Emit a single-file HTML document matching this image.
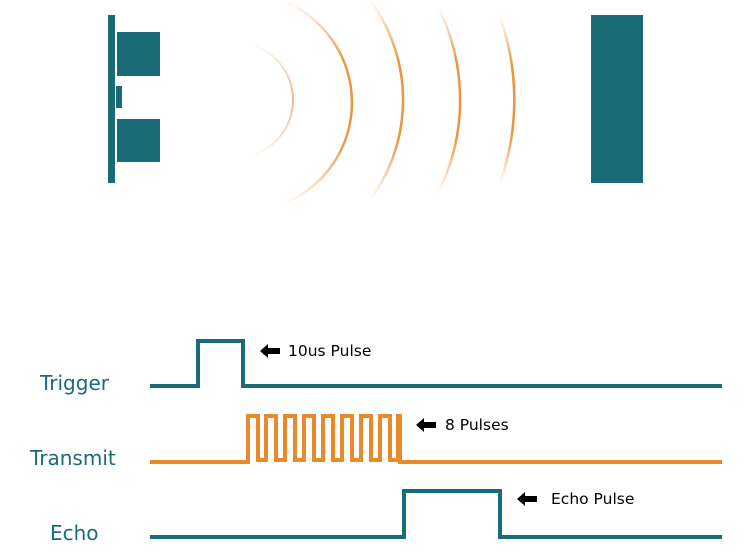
<!DOCTYPE html>
<html><head><style>
html,body{margin:0;padding:0;background:#fff;}
svg{display:block;}
text{font-family:"DejaVu Sans","Liberation Sans",sans-serif;}
</style></head><body>
<svg width="751" height="559" viewBox="0 0 751 559" xmlns="http://www.w3.org/2000/svg">
<defs>
<linearGradient id="g1" x1="0" y1="0" x2="0" y2="1">
<stop offset="0" stop-color="#e8892a" stop-opacity="0"/><stop offset="0.5" stop-color="#e3a070" stop-opacity="0.75"/><stop offset="1" stop-color="#e8892a" stop-opacity="0"/></linearGradient>
<linearGradient id="g2" x1="0" y1="0" x2="0" y2="1">
<stop offset="0" stop-color="#e8892a" stop-opacity="0"/><stop offset="0.3" stop-color="#e8892a" stop-opacity="0.9"/><stop offset="0.7" stop-color="#e8892a" stop-opacity="0.9"/><stop offset="1" stop-color="#e8892a" stop-opacity="0"/></linearGradient>
</defs>
<rect x="108" y="15" width="7" height="168" fill="#1a6b78"/>
<rect x="117" y="32" width="43" height="44" fill="#1a6b78"/>
<rect x="116" y="86" width="6" height="22" fill="#1a6b78"/>
<rect x="117" y="119" width="43" height="43" fill="#1a6b78"/>
<rect x="591" y="15" width="52" height="168" fill="#1a6b78"/>
<path d="M235 42 A58 58 0 0 1 235 158" fill="none" stroke="url(#g1)" stroke-width="2"/>
<path d="M280 0 A109 109 0 0 1 280 205" fill="none" stroke="url(#g2)" stroke-width="2.5"/>
<path d="M370 0 A168 168 0 0 1 370 200" fill="none" stroke="url(#g2)" stroke-width="2.5"/>
<path d="M438 7 A207 207 0 0 1 438 193" fill="none" stroke="url(#g2)" stroke-width="2.5"/>
<path d="M500 17 A248 248 0 0 1 500 183" fill="none" stroke="url(#g2)" stroke-width="2.5"/>
<polyline points="150,386 198,386 198,341 243,341 243,386 722,386" fill="none" stroke="#1a6b78" stroke-width="4"/>
<polyline points="150,462 248,462 248,416 258,416 258,460 266,460 266,416 276,416 276,460 285,460 285,416 295,416 295,460 304,460 304,416 314,416 314,460 323,460 323,416 333,416 333,460 342,460 342,416 352,416 352,460 361,460 361,416 371,416 371,460 380,460 380,416 390,416 390,460 398,460 398,416 400,416 400,462 722,462" fill="none" stroke="#e8892a" stroke-width="4"/>
<polyline points="150,537 404,537 404,491 500,491 500,537 722,537" fill="none" stroke="#1a6b78" stroke-width="4"/>
<text x="40" y="390" font-size="20" fill="#1a6b78">Trigger</text>
<text x="30" y="465" font-size="20" fill="#1a6b78">Transmit</text>
<text x="50" y="540" font-size="20" fill="#1a6b78">Echo</text>
<polygon points="260,351 268,344 268,348 280,348 280,354 268,354 268,358" fill="#000"/>
<text x="288" y="356" font-size="15.5" fill="#000">10us Pulse</text>
<polygon points="416,425 424,418 424,422 436,422 436,428 424,428 424,432" fill="#000"/>
<text x="445" y="430" font-size="15.5" fill="#000">8 Pulses</text>
<polygon points="517,499 525,492 525,496 537,496 537,502 525,502 525,506" fill="#000"/>
<text x="551" y="504" font-size="15.5" fill="#000">Echo Pulse</text>
</svg>
</body></html>
